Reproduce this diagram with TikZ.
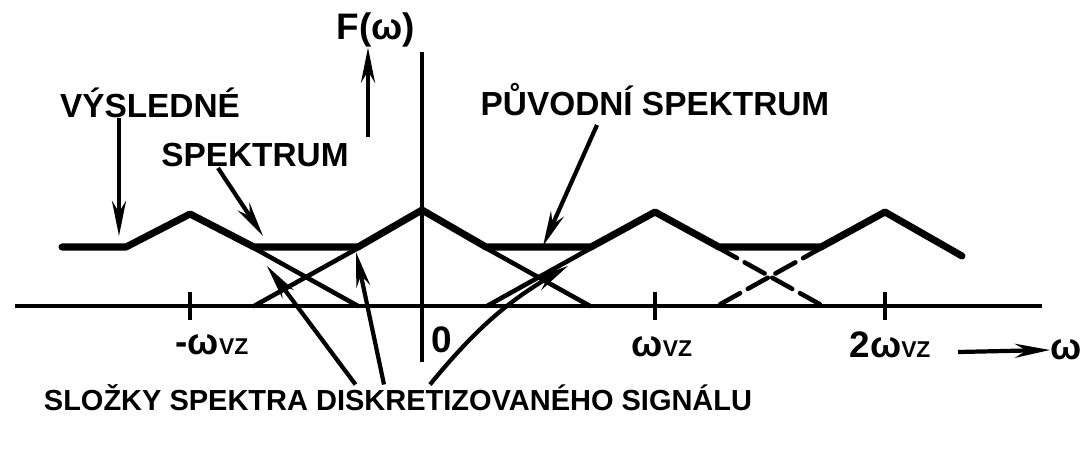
\documentclass[tikz,border=0pt]{standalone}
\usepackage{fontspec}
\setmainfont{Liberation Sans}
\usetikzlibrary{arrows.meta, positioning}

\newcommand{\wvz}{ω{\fontsize{13}{13}\selectfont VZ}}

\begin{document}
\begin{tikzpicture}[
    x=0.02cm, y=-0.02cm,
    lbl/.style={font=\bfseries\fontsize{16.5}{16.5}\selectfont, inner sep=0pt},
    biglbl/.style={font=\bfseries\fontsize{19}{19}\selectfont, inner sep=0pt},
    ticklbl/.style={font=\bfseries\fontsize{21}{21}\selectfont, inner sep=0pt},
    envelope/.style={line width=4pt, line join=round, line cap=round},
    part/.style={line width=2.6pt, line cap=round},
    axisline/.style={line width=2.2pt},
    pointer/.style={line width=2.4pt, -{Stealth[length=20pt,width=8pt]}}
]
\useasboundingbox (0,0) rectangle (1085,450);

%% Axes
\draw [axisline] (15,306) -- (1042,306);
\draw [axisline] (422,52) -- (422,362);
\foreach \x in {190,655,885}
    \draw [axisline] (\x,292) -- (\x,320);

%% Labels
\node (Fw)    [ticklbl] at (376,30) {F(ω)};
\node (res1)  [biglbl] at (150,103) {VÝSLEDNÉ};
\node (res2)  [biglbl, below=0.5cm of res1, xshift=2.1cm] {SPEKTRUM};
\node (orig)  [biglbl] at (655,100) {PŮVODNÍ SPEKTRUM};
\node (parts) [lbl] at (398,398) {SLOŽKY SPEKTRA DISKRETIZOVANÉHO SIGNÁLU};

\node (wm)    [ticklbl] at (212,345) {-\wvz};
\node (zero)  [ticklbl] at (442,340) {0};
\node (w1)    [ticklbl] at (662,347) {\wvz};
\node (w2)    [ticklbl] at (890,345) {2\wvz};
\node (omega) [ticklbl] at (1066,350) {ω};

%% Resulting spectrum
\draw [envelope] (62,247) -- (126,247) -- (190,214) -- (254,247)
    -- (358,247) -- (422,210) -- (486,247) -- (591,247) -- (655,212)
    -- (719,247) -- (821,247) -- (885,212) -- (962,256);

%% Components
\draw [part] (252,247) -- (358,306);
\draw [part] (360,247) -- (254,306);
\draw [part] (484,247) -- (590,306);
\draw [part] (593,247) -- (487,306);
\draw [part, dash pattern=on 13pt off 5pt] (717,247) -- (823,306);
\draw [part, dash pattern=on 13pt off 5pt] (823,247) -- (717,306);

%% Points
\coordinate (tipA) at (119,236);
\coordinate (tailB) at (218,168);
\coordinate (tipB) at (263,236);
\coordinate (tailF) at (368,137);
\coordinate (tailP) at (597,125);
\coordinate (tipP) at (543,246);
\coordinate (tip1) at (267,266);
\coordinate (tip2) at (356,252);
\coordinate (tip3) at (568,266);
\coordinate (tailW) at (958,352);

%% Arrows
\draw [pointer] (res1.south -| tipA) -- (tipA);
\draw [pointer] (tailB) -- (tipB);
\draw [pointer] (tailF) -- (tailF |- Fw.south);
\draw [pointer] (tailP) -- (tipP);
\draw [pointer] ([xshift=-0.85cm]parts.north) -- (tip1);
\draw [pointer] ([xshift=-0.28cm]parts.north) -- (tip2);
\draw [pointer] ([xshift=0.64cm]parts.north) to[bend left=10] (tip3);
\draw [pointer] (tailW) -- (omega.west);

\end{tikzpicture}
\end{document}
